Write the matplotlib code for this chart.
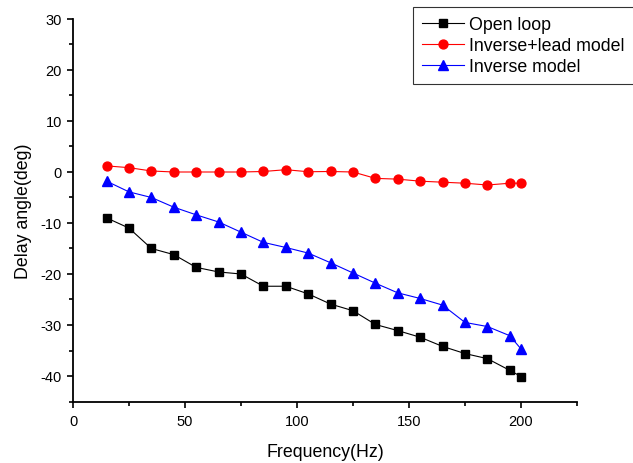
import matplotlib
matplotlib.use("Agg")
import matplotlib.pyplot as plt
from matplotlib.ticker import MultipleLocator, FuncFormatter

plt.rcParams['font.family'] = ['Liberation Sans', 'DejaVu Sans']

freq = [15, 25, 35, 45, 55, 65, 75, 85, 95, 105, 115, 125, 135, 145, 155, 165, 175, 185, 195, 200]
open_loop = [-9.0, -11.0, -15.0, -16.2, -18.7, -19.6, -20.0, -22.4, -22.4, -23.9, -25.9, -27.2,
             -29.9, -31.1, -32.4, -34.2, -35.6, -36.6, -38.9, -40.1]
inverse_lead = [1.2, 0.85, 0.2, 0.0, 0.0, 0.0, 0.0, 0.1, 0.45, 0.05, 0.1, 0.0,
                -1.25, -1.4, -1.8, -2.0, -2.2, -2.55, -2.2, -2.2]
inverse_model = [-1.8, -3.9, -5.0, -6.9, -8.4, -9.8, -11.8, -13.8, -14.8, -15.9, -17.8, -19.8,
                 -21.8, -23.7, -24.8, -26.1, -29.5, -30.3, -32.1, -34.7]

W, H = 633, 464
fig = plt.figure(figsize=(W / 100, H / 100), dpi=100)
ax = fig.add_axes([73 / W, 1 - 402.5 / H, (577 - 73) / W, (402.5 - 20) / H])

ax.plot(freq, open_loop, color='black', marker='s', markersize=5.6, linewidth=0.8,
        label='Open loop')
ax.plot(freq, inverse_lead, color='red', marker='o', markersize=6.4, linewidth=0.8,
        label='Inverse+lead model')
ax.plot(freq, inverse_model, color='blue', marker='^', markersize=7.4, linewidth=0.8,
        label='Inverse model')

ax.set_xlim(0, 225)
ax.set_ylim(-45, 30)
ax.xaxis.set_major_locator(MultipleLocator(50))
ax.xaxis.set_minor_locator(MultipleLocator(25))
ax.yaxis.set_major_locator(MultipleLocator(10))
ax.yaxis.set_minor_locator(MultipleLocator(5))
fmt = FuncFormatter(lambda v, p: ('%d' % v).replace('\u2212', '-'))
ax.xaxis.set_major_formatter(fmt)
ax.yaxis.set_major_formatter(fmt)

for s in ['top', 'right']:
    ax.spines[s].set_visible(False)
for s in ['left', 'bottom']:
    ax.spines[s].set_linewidth(1.3)

ax.tick_params(which='major', direction='out', length=4.3, width=1.2, labelsize=10.5)
ax.tick_params(which='minor', direction='out', length=2.6, width=1.2)
ax.tick_params(axis='x', which='major', pad=4.5)
ax.tick_params(axis='y', which='major', pad=3.6)

ax.set_xlabel('Frequency(Hz)', fontsize=12.8, labelpad=11)
ax.set_ylabel('Delay angle(deg)', fontsize=12.8, labelpad=6)

leg = fig.legend(loc='upper left', bbox_to_anchor=(412.7 / W, 1 - 8.3 / H),
                 bbox_transform=fig.transFigure, borderaxespad=0, fontsize=12.8,
                 frameon=True, fancybox=False, edgecolor='black', handlelength=2.4,
                 handletextpad=0.28, labelspacing=0.22, borderpad=0.5)
leg.get_frame().set_linewidth(0.8)

fig.savefig('out.png', dpi=100)
